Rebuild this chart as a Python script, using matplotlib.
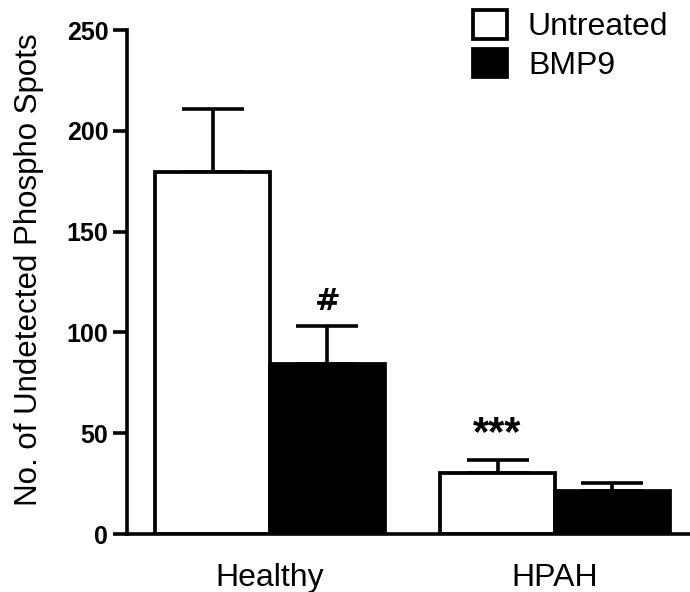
import matplotlib
matplotlib.use("Agg")
import matplotlib.pyplot as plt
import numpy as np

plt.rcParams['font.family'] = ['Liberation Sans', 'DejaVu Sans']

groups = ["Healthy", "HPAH"]
series = ["Untreated", "BMP9"]
untreated = [179.5, 30.3]
untreated_err = [31.5, 6.4]
bmp9 = [84.2, 21.3]
bmp9_err = [19.0, 4.0]
marks = ["***", "#"]  # significance labels
yticks = [0, 50, 100, 150, 200, 250]

fig = plt.figure(figsize=(6.9, 5.92), dpi=100)
ax = fig.add_axes([127/690, 1-534/592, 1-127/690, (534-30)/592])

x = np.arange(len(groups))
w = 0.4035
lw = 2.7
ax.bar(x - w/2, untreated, w, color='white', edgecolor='black', linewidth=lw,
       label=series[0], zorder=2)
ax.bar(x + w/2, bmp9, w, color='black', edgecolor='black', linewidth=lw,
       label=series[1], zorder=2)
ax.errorbar(x - w/2, untreated, yerr=[np.zeros(2), untreated_err], fmt='none',
            ecolor='black', elinewidth=2.6, capsize=22, capthick=2.6, zorder=1)
ax.errorbar(x + w/2, bmp9, yerr=[np.zeros(2), bmp9_err], fmt='none',
            ecolor='black', elinewidth=2.6, capsize=22, capthick=2.6, zorder=1)

# annotations
ax.text(x[1] - w/2, untreated[1] + untreated_err[1] + 7.5, marks[0],
        ha='center', va='baseline', fontsize=30, fontweight='bold')
ax.text(x[0] + w/2, bmp9[0] + bmp9_err[0] + 8.0, marks[1],
        ha='center', va='baseline', fontsize=22, fontweight='bold',
        family=['DejaVu Sans'])

ax.set_xlim((127-270)/285, (690-270)/285)
ax.set_ylim(0, 250)
ax.set_yticks(yticks)
ax.set_yticklabels([str(t) for t in yticks], fontsize=18, fontweight='bold')
ax.set_xticks(x)
ax.set_xticklabels(groups, fontsize=23)
ax.tick_params(axis='x', length=0, pad=21)
ax.tick_params(axis='y', length=10, width=2.6, pad=3.5)
for s in ['top', 'right']:
    ax.spines[s].set_visible(False)
for s in ['left', 'bottom']:
    ax.spines[s].set_linewidth(2.6)

ax.set_ylabel("No. of Undetected Phospho Spots", fontsize=22.5)
ax.yaxis.set_label_coords(-0.148, 0.524)

leg = ax.legend(loc='upper left', bbox_to_anchor=(473/690, 1-10/592),
                bbox_transform=fig.transFigure, frameon=False, fontsize=23,
                handlelength=1.06, handleheight=1.0, handletextpad=0.66,
                labelspacing=0.2, borderpad=0, borderaxespad=0)

fig.savefig("out.png", dpi=100)
